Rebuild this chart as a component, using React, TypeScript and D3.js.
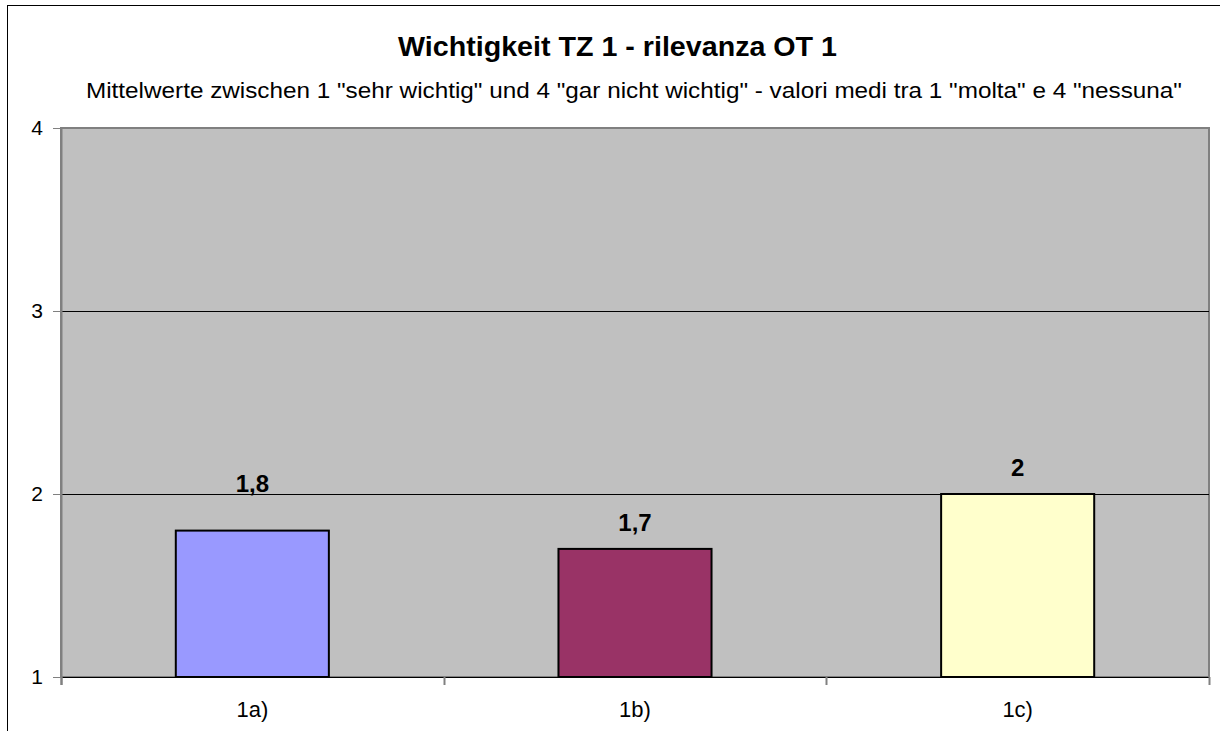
import React from "react";
import * as d3 from "d3";

const categories = ["1a)", "1b)", "1c)"];
const values = [1.8, 1.7, 2];
const valueLabels = ["1,8", "1,7", "2"];
const barColors = ["#9999FF", "#993366", "#FFFFCC"];
const yTicks = [1, 2, 3, 4];
const labelLift = [39, 18, 18];

const title = "Wichtigkeit TZ 1 - rilevanza OT 1";
const subtitle =
  'Mittelwerte zwischen 1 "sehr wichtig" und 4 "gar nicht wichtig" - valori medi tra 1 "molta" e 4 "nessuna"';

export default function App() {
  const W = 1220;
  const H = 731;
  const left = 61;
  const right = 1209;
  const top = 128;
  const bottom = 677;
  const font = "'Liberation Sans', Arial, sans-serif";

  const x = d3.scaleBand<string>().domain(categories).range([left, right]).padding(0);
  const y = d3.scaleLinear().domain([1, 4]).range([bottom, top]);
  const barW = x.bandwidth() * 0.4;
  const boundaries = [left, ...categories.map((c) => (x(c) as number) + x.bandwidth())];
  const subX0 = 86;
  const subX1 = 1182;

  return (
    <svg
      width={W}
      height={H}
      style={{ position: "absolute", left: 0, top: 0, background: "#fff" }}
      fontFamily={font}
    >
      <rect x={0} y={0} width={W} height={H} fill="#ffffff" />
      <rect x={7.5} y={5.5} width={W + 20} height={H + 20} fill="none" stroke="#000" strokeWidth={1} />
      <text x={398} y={56} fontSize={28.5} fontWeight="bold" fill="#000" textLength={439} lengthAdjust="spacingAndGlyphs">
        {title}
      </text>
      <text x={subX0} y={98} fontSize={22} fill="#000" textLength={subX1 - subX0} lengthAdjust="spacingAndGlyphs">
        {subtitle}
      </text>
      <rect x={left} y={top} width={right - left} height={bottom - top} fill="#C0C0C0" stroke="#808080" strokeWidth={2} />
      {yTicks.filter((t) => t > 1 && t < 4).map((t) => (
        <line key={t} x1={left} x2={right} y1={Math.round(y(t)) + 0.5} y2={Math.round(y(t)) + 0.5} stroke="#000" strokeWidth={1} />
      ))}
      {categories.map((c, i) => {
        const bx = (x(c) as number) + (x.bandwidth() - barW) / 2;
        const by = y(values[i]);
        return (
          <g key={c}>
            <rect x={bx} y={by} width={barW} height={bottom - by} fill={barColors[i]} stroke="#000" strokeWidth={2} />
            <text x={bx + barW / 2} y={by - labelLift[i]} textAnchor="middle" fontSize={24} fontWeight="bold" fill="#000">
              {valueLabels[i]}
            </text>
            <text x={bx + barW / 2} y={717} textAnchor="middle" fontSize={22} fill="#000">
              {c}
            </text>
          </g>
        );
      })}
      <line x1={left} x2={right} y1={bottom + 0.5} y2={bottom + 0.5} stroke="#000" strokeWidth={1} />
      <line x1={left + 0.5} x2={left + 0.5} y1={top} y2={bottom + 8} stroke="#808080" strokeWidth={2} />
      {yTicks.map((t) => (
        <g key={t}>
          <line x1={53} x2={left} y1={Math.round(y(t)) + 0.5} y2={Math.round(y(t)) + 0.5} stroke="#808080" strokeWidth={1} />
          <text x={43} y={y(t) + 7} textAnchor="end" fontSize={21} fill="#000">
            {t}
          </text>
        </g>
      ))}
      {boundaries.map((b, i) => (
        <line key={i} x1={Math.round(b) + 0.5} x2={Math.round(b) + 0.5} y1={bottom} y2={bottom + 8} stroke="#808080" strokeWidth={2} />
      ))}
    </svg>
  );
}
